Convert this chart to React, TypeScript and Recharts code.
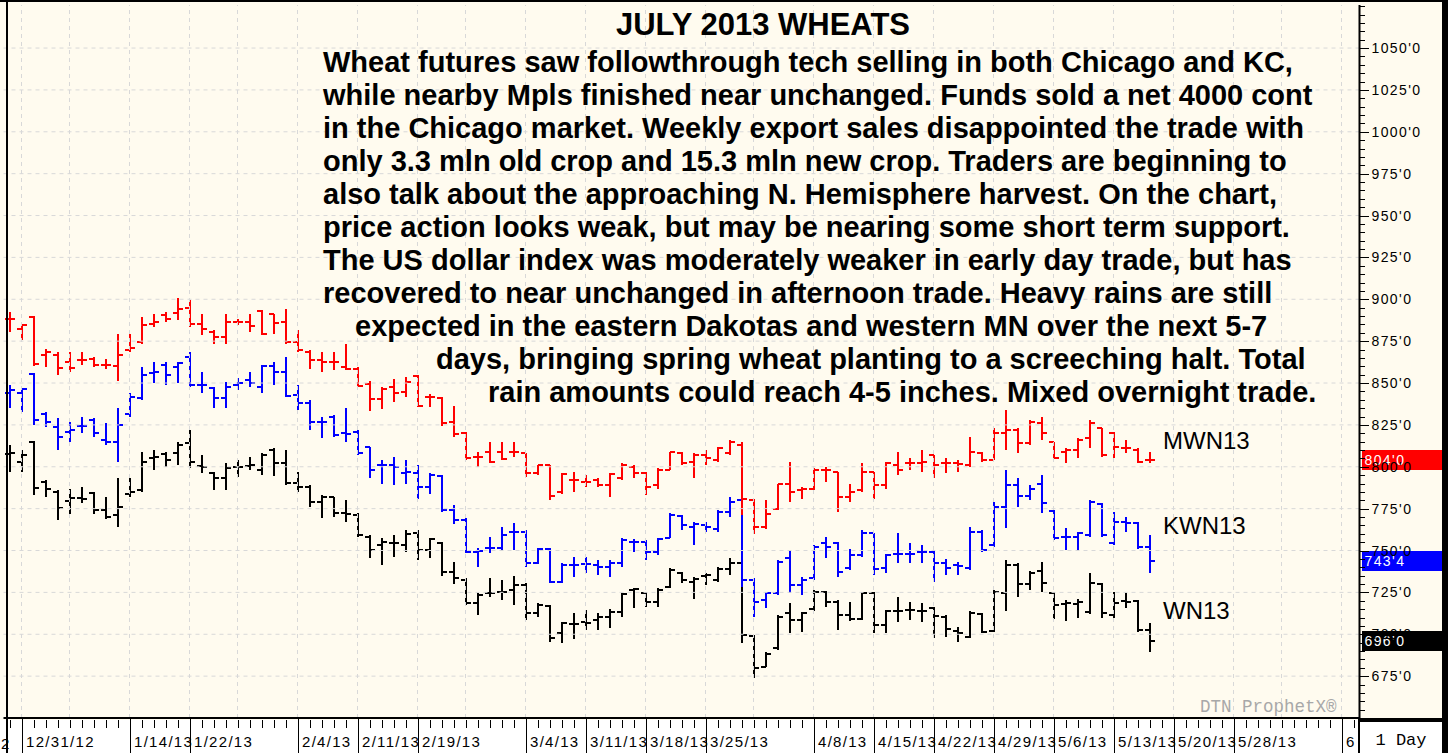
import React from 'react';
import { ComposedChart, Bar, XAxis, YAxis, ReferenceLine } from 'recharts';

// trading days on the x axis (bars exist for the first 96)
const dates = [
  '12/28/12', '12/31/12', '1/2/13', '1/3/13', '1/4/13', '1/7/13', '1/8/13', '1/9/13', '1/10/13', '1/11/13',
  '1/14/13', '1/15/13', '1/16/13', '1/17/13', '1/18/13', '1/22/13', '1/23/13', '1/24/13', '1/25/13', '1/28/13',
  '1/29/13', '1/30/13', '1/31/13', '2/1/13', '2/4/13', '2/5/13', '2/6/13', '2/7/13', '2/8/13', '2/11/13',
  '2/12/13', '2/13/13', '2/14/13', '2/15/13', '2/19/13', '2/20/13', '2/21/13', '2/22/13', '2/25/13', '2/26/13',
  '2/27/13', '2/28/13', '3/1/13', '3/4/13', '3/5/13', '3/6/13', '3/7/13', '3/8/13', '3/11/13', '3/12/13',
  '3/13/13', '3/14/13', '3/15/13', '3/18/13', '3/19/13', '3/20/13', '3/21/13', '3/22/13', '3/25/13', '3/26/13',
  '3/27/13', '3/28/13', '4/1/13', '4/2/13', '4/3/13', '4/4/13', '4/5/13', '4/8/13', '4/9/13', '4/10/13',
  '4/11/13', '4/12/13', '4/15/13', '4/16/13', '4/17/13', '4/18/13', '4/19/13', '4/22/13', '4/23/13', '4/24/13',
  '4/25/13', '4/26/13', '4/29/13', '4/30/13', '5/1/13', '5/2/13', '5/3/13', '5/6/13', '5/7/13', '5/8/13',
  '5/9/13', '5/10/13', '5/13/13', '5/14/13', '5/15/13', '5/16/13', '5/17/13', '5/20/13', '5/21/13', '5/22/13',
  '5/23/13', '5/24/13', '5/28/13', '5/29/13', '5/30/13', '5/31/13', '6/3/13', '6/4/13', '6/5/13', '6/6/13',
  '6/7/13', '6/10/13', '6/11/13',
];

// labelled dates and the text shown for them (the last one is cut off by the price axis)
const shownDates = [
  '12/31/12', '1/14/13', '1/22/13', '2/4/13', '2/11/13', '2/19/13', '3/4/13', '3/11/13', '3/18/13', '3/25/13',
  '4/8/13', '4/15/13', '4/22/13', '4/29/13', '5/6/13', '5/13/13', '5/20/13', '5/28/13', '6/10/13',
];
const shownText = [
  '12/31/12', '1/14/13', '1/22/13', '2/4/13', '2/11/13', '2/19/13', '3/4/13', '3/11/13', '3/18/13', '3/25/13',
  '4/8/13', '4/15/13', '4/22/13', '4/29/13', '5/6/13', '5/13/13', '5/20/13', '5/28/13', '6',
];
const weekStarts = [
  '12/31/12', '1/7/13', '1/14/13', '1/22/13', '1/28/13', '2/4/13', '2/11/13', '2/19/13', '2/25/13', '3/4/13',
  '3/11/13', '3/18/13', '3/25/13', '4/1/13', '4/8/13', '4/15/13', '4/22/13', '4/29/13', '5/6/13', '5/13/13',
  '5/20/13', '5/28/13', '6/3/13', '6/10/13',
];
const priceTicks = [675, 700, 725, 750, 775, 800, 825, 850, 875, 900, 925, 950, 975, 1000, 1025, 1050];

// MWN13 (Minneapolis) - red
const mwnOpen = [888, 882, 889.5, 866.5, 866.5, 862.5, 863.5, 864.5, 861, 860, 870, 874.5, 885.5, 890.5, 892, 894.5, 885.5, 880.5, 877.5, 886.5, 886.5, 893, 891, 886.5, 874.5, 868.5, 863.5, 862.5, 859.5, 858.5, 849.5, 840.5, 847.5, 844.5, 854, 841.5, 841, 826.5, 820, 806, 809, 809, 809, 808, 796, 801, 785, 792, 791, 792, 789, 793, 800, 796, 789, 798, 808, 803, 807, 804, 808, 813, 780, 764, 775, 790, 786, 787, 798, 797, 782, 786, 797, 789, 801, 802, 802, 807, 802, 802, 801, 808, 804, 820, 822, 814, 826, 815, 809, 810, 817, 823, 820, 811, 810, 804];
const mwnHigh = [892.5, 885.5, 890, 870.5, 868.5, 868.5, 868.5, 865.5, 864.5, 879.5, 879.5, 889.5, 891.5, 892.5, 900.5, 899.5, 891.5, 881.5, 891.5, 888.5, 891.5, 893.5, 891.5, 894, 881.5, 869.5, 868.5, 868.5, 873.5, 859.5, 851.5, 847.5, 852.5, 853.5, 854.5, 843.5, 841.5, 836.5, 821, 809, 815, 815, 815, 808, 801, 801, 796, 797, 795, 793, 796, 802, 801, 797, 799, 809, 809, 808, 810, 812, 816, 815, 780.5, 780, 790, 803, 788, 799, 800, 797, 790, 802, 797, 803, 809, 805, 810, 807, 805, 804, 818, 809, 823, 834, 823, 828, 830, 815, 811, 817, 828, 823, 821, 816, 811, 809];
const mwnLow = [880.5, 875.5, 860, 859.5, 854.5, 856.5, 860.5, 859.5, 858.5, 851.5, 868.5, 873.5, 883.5, 886.5, 887.5, 883.5, 878.5, 873.5, 873.5, 884.5, 880.5, 878.5, 879.5, 873.5, 868.5, 858.5, 856.5, 857.5, 857.5, 848.5, 833.5, 834.5, 838.5, 841.5, 835.5, 835.5, 824.5, 817.5, 804, 800, 802, 804, 806, 794, 795, 780, 784, 785, 788, 788, 782, 792, 793, 783, 787, 798, 801, 793, 801, 803, 807, 771, 760, 763, 774, 779, 781, 786, 791, 773, 779, 785, 781, 787, 795, 798, 797, 793, 796, 797, 800, 803, 804, 810, 808, 813, 816, 805, 802, 805, 811, 806, 805, 808, 802, 802];
const mwnClose = [888, 884.5, 861.5, 868.5, 859, 859, 863.5, 860.5, 860.5, 866.5, 871, 884.5, 886.5, 888.5, 894, 885.5, 882, 877.5, 886.5, 886.5, 884, 879.5, 886, 874.5, 869.5, 863.5, 862.5, 862.5, 858.5, 848.5, 840.5, 846.5, 844, 850.5, 836.5, 841.5, 826, 819.5, 805, 806, 803, 804.5, 809, 796, 801, 782.5, 795.5, 792, 791, 789, 795.5, 801, 796, 788, 798, 809, 802, 807, 805, 811, 814.5, 781, 764, 772, 790, 785, 787, 798, 798, 782, 785, 797, 789, 802, 798, 802, 803, 801, 802, 801.5, 809, 804, 820, 822, 814, 827, 820, 805, 810, 816, 826, 807, 812, 811, 803, 804];

// KWN13 (Kansas City) - blue
const kwnOpen = [843.8, 843.8, 855.3, 831.8, 823.9, 820.9, 824.3, 827.9, 815.9, 814.9, 831.8, 840.8, 855.7, 860.7, 859.7, 865.7, 848.8, 846.8, 840.8, 848.8, 851.8, 847.8, 860.1, 856.7, 842.8, 837.8, 826.9, 829.9, 819.9, 820.9, 811.6, 801, 801, 796.4, 796, 787.7, 794.4, 774, 768.2, 749.3, 751.3, 751.3, 761.2, 761.2, 742.3, 750.7, 731.4, 741.3, 741.9, 741.3, 740.3, 742.7, 755.3, 755.3, 749.3, 757.2, 770.6, 764.2, 765.2, 762.6, 773.1, 780.1, 732.3, 720.4, 724.4, 745.3, 729.3, 733.3, 754.2, 754.6, 739.3, 747.2, 760.2, 739.3, 747.8, 748.2, 749.2, 749.2, 742.3, 741.3, 739.3, 761.2, 753.2, 775.7, 789, 782.5, 790, 773.7, 758.2, 758.2, 759.2, 777.7, 754.2, 767.1, 766.5, 752.2];
const kwnHigh = [848.8, 846.8, 855.7, 832.8, 828.9, 826.9, 829.9, 828.9, 825.9, 834.8, 843.8, 859.7, 862.7, 862.7, 862.7, 868.7, 856.7, 847.8, 850.8, 852.8, 856.7, 860.7, 862.7, 865.7, 848.8, 839.8, 829.9, 830.9, 834.8, 821.9, 812, 804, 806, 804, 801, 796, 795, 777, 769.2, 751.3, 758.2, 764.2, 766.2, 762.2, 751.3, 751.3, 742.3, 746.3, 746.3, 744.3, 744.3, 757.2, 756.6, 756.3, 757.2, 772.2, 771.2, 767.1, 767.1, 774.1, 782.1, 780.5, 733.3, 725.4, 744.3, 750.2, 734.3, 753.2, 758.2, 755.2, 751.2, 762.2, 760.2, 748.2, 760.2, 754.2, 753.2, 750.2, 744.7, 743.3, 764.2, 762.2, 779.1, 798, 793, 789, 795, 774.1, 763.2, 761.2, 780.1, 778.1, 773.1, 770.1, 767.1, 759.2];
const kwnLow = [834.8, 832.8, 824.9, 823.9, 810, 814.9, 819.9, 817.9, 812.9, 803, 829.9, 839.8, 849.8, 848.8, 849.8, 847.8, 843.8, 834.8, 834.8, 845.8, 847.8, 843.8, 848.8, 841.8, 833.8, 821.9, 816.9, 817.9, 814.9, 807, 793, 790, 789, 790, 781, 784, 773, 766, 748.3, 740.3, 748.3, 749.9, 750.3, 740.3, 741.9, 730.4, 730.8, 734.4, 736.3, 735.3, 734.4, 740.3, 749.3, 744.3, 747.3, 757.2, 762.2, 753.2, 761.2, 761.2, 770.1, 728.3, 710.4, 715.4, 723.4, 724.4, 723.4, 732.3, 745.3, 734.3, 738.3, 746.2, 735.3, 736.3, 742.3, 742.3, 742.3, 731.3, 735.3, 735.3, 738.3, 749.2, 752.2, 763.2, 776.1, 780.1, 772.1, 756.2, 750.2, 750.2, 758.2, 758.2, 753.2, 761.2, 751.2, 736.3];
const kwnClose = [845.8, 846.2, 827.9, 826.9, 817.9, 821.9, 824.3, 819.9, 814.9, 824.9, 841.8, 854.7, 856.7, 854.7, 861.7, 848.8, 848.8, 840.8, 847.8, 849.8, 849.8, 860.1, 856.7, 842.2, 837.8, 826.9, 826.9, 818.9, 819.5, 808, 798, 801, 800, 797, 788, 795, 774, 768, 749.3, 749.9, 751.3, 759.2, 761.2, 742.3, 750.7, 731.4, 741.3, 741.3, 741.9, 740.3, 742.7, 756.3, 755.3, 749.3, 756.6, 771.2, 765.2, 765.8, 764.2, 773.1, 779.1, 732.3, 719.4, 724.4, 743.3, 729.3, 732.3, 752.2, 752.2, 737.3, 747.2, 760.2, 738.7, 747.2, 747.8, 748.2, 749.2, 742.3, 739.3, 740.7, 761.2, 750.2, 776.1, 789, 782.5, 786.5, 778.1, 757.2, 758.2, 760.2, 779.1, 759.2, 767.1, 766.5, 752.2, 743.5];

// WN13 (Chicago) - black
const wnOpen = [807.6, 803, 814.9, 791, 785.1, 779.7, 781.1, 784.1, 774.1, 771.1, 783.7, 786.1, 805, 807.6, 808, 814, 800.4, 796, 793, 800, 800.4, 798, 810, 802, 790.5, 788.1, 779.1, 781.7, 772.1, 771.1, 758.2, 753.2, 754.2, 753.2, 760.6, 750.2, 754.6, 737.3, 732.4, 718.8, 724.4, 725.4, 726.4, 729.4, 712.5, 717, 700.5, 706.1, 707.5, 708.5, 710.5, 713.5, 726.4, 724.8, 719.4, 728.4, 736.7, 731.3, 734.7, 732.3, 738.7, 742.3, 698.9, 680.6, 691.5, 712.4, 708.4, 714.8, 725.4, 719.4, 711.4, 709.4, 724.8, 705.4, 714, 714.4, 714, 715.4, 710.4, 702.1, 698.5, 712, 702.1, 724.4, 741.3, 730.3, 737.9, 724.8, 718, 718, 713.4, 729.9, 711.4, 720, 720, 702.5];
const wnHigh = [813, 810, 815.5, 792, 786.1, 786.5, 788.1, 785.1, 782.1, 793, 793, 809, 810, 809, 815, 821.9, 807, 797, 802, 804, 806, 808.4, 811, 810, 797, 789, 783.1, 782.1, 780.1, 772.1, 759.2, 757.2, 759.2, 762.2, 762.2, 757.2, 755.2, 743.3, 733.3, 724.4, 733.3, 732.4, 734.7, 730.4, 718.4, 717.4, 707.5, 712.5, 714.4, 712.5, 714.8, 724.8, 727.4, 725.4, 727.4, 739.3, 737.3, 734.3, 736.7, 740.3, 745.3, 743.3, 699.5, 689.5, 711.4, 718.4, 713.4, 726.3, 726, 720.4, 719.4, 725.4, 725.4, 714.4, 722.4, 719.4, 718.4, 716.4, 711.4, 704.5, 714, 712.4, 726.3, 744.3, 742.3, 737.9, 743.3, 725.4, 720.4, 720.8, 736.3, 730.7, 725.4, 724.4, 720.4, 706.8];
const wnLow = [797, 797, 783.1, 782.1, 768.2, 771.7, 778.1, 771.7, 768.6, 764.2, 781.7, 785.1, 798, 800, 801, 799, 796, 786.1, 786.1, 794, 798, 795, 794.4, 789, 785.1, 776.1, 769.2, 770.2, 767.2, 758.2, 745.3, 741.3, 746.3, 749.3, 744.3, 745.3, 734.7, 730.3, 717.4, 711.5, 722.4, 720.4, 717.4, 708.5, 710.5, 695.5, 694.5, 696.9, 702.5, 702.5, 703.5, 710.5, 715.4, 716, 716, 727.4, 730.8, 720.8, 729.3, 731.3, 735.3, 694.5, 673.6, 680.2, 690.5, 700.5, 701.5, 714, 716, 702.5, 708, 708.8, 700.5, 700.9, 707.4, 708.4, 707.4, 697.5, 698.5, 695.5, 697.5, 700.5, 701.5, 714, 722.4, 726.3, 725.4, 709.4, 708, 710, 712, 710, 710, 715.4, 701.5, 689.5];
const wnClose = [808, 807, 787.1, 786.5, 775.1, 781.1, 780.5, 774.1, 770.2, 776.1, 785.1, 803, 806, 804, 813, 803, 800, 793, 799, 800, 801, 807, 802, 790.5, 787.7, 779.1, 782.1, 772.5, 771.7, 759.2, 750.6, 755.2, 754.2, 759.8, 750.2, 756.6, 737.3, 733.3, 718.8, 723.4, 724.4, 725.4, 729.4, 712.5, 717.4, 697.5, 706.5, 706.1, 706.9, 710.5, 713.5, 724, 726.8, 719.4, 726.4, 738.3, 732.4, 732.7, 735.3, 738.7, 742.3, 699.5, 679.6, 688.5, 710.4, 708.4, 712.4, 725.4, 719.4, 711.4, 709.4, 724.8, 705.4, 714, 714, 714.4, 714, 710.8, 702.9, 700.5, 712.4, 701.5, 725.4, 741.3, 730.3, 736.7, 730.7, 717.4, 718.8, 719.4, 730.7, 712.4, 718.4, 719.4, 702.5, 696];

const commentary = [
  'Wheat futures saw followthrough tech selling in both Chicago and KC,',
  'while nearby Mpls finished near unchanged. Funds sold a net 4000 cont',
  'in the Chicago market. Weekly export sales disappointed the trade with',
  'only 3.3 mln old crop and 15.3 mln new crop. Traders are beginning to',
  'also talk about the approaching N. Hemisphere harvest. On the chart,',
  'price action looks weak, but may be nearing some short term support.',
  'The US dollar index was moderately weaker in early day trade, but has',
  'recovered to near unchanged in afternoon trade. Heavy rains are still',
  'expected in the eastern Dakotas and western MN over the next 5-7',
  'days, bringing spring wheat planting to a screeching halt. Total',
  'rain amounts could reach 4-5 inches. Mixed overnight trade.',
];
const commentaryLeft = [323, 323, 323, 323, 323, 323, 323, 323, 355, 436, 488];

const RED = '#FF0000';
const BLUE = '#0000FF';
const BLACK = '#000000';
const CREAM = '#FFFBEF';
const GRID = '#D8D8D8';
const SANS = '"Liberation Sans", Arial, sans-serif';
const MONO = '"Liberation Mono", "Courier New", monospace';

const data = dates.map((d, i) => {
  const row: any = { date: d };
  if (i < wnClose.length) {
    row.w = [wnLow[i], wnHigh[i]];
    row.wO = wnOpen[i];
    row.wC = wnClose[i];
    row.k = [kwnLow[i], kwnHigh[i]];
    row.kO = kwnOpen[i];
    row.kC = kwnClose[i];
    row.m = [mwnLow[i], mwnHigh[i]];
    row.mO = mwnOpen[i];
    row.mC = mwnClose[i];
  }
  return row;
});

// eighths notation used by the quote board, e.g. 743.5 -> 743'4
const fmtPrice = (v: number) => {
  const whole = Math.floor(v);
  return `${whole}'${Math.round((v - whole) * 8)}`;
};

const OhlcShape = (props: any) => {
  const { x, y, width, height, payload, color, k } = props;
  const range = payload && payload[k];
  if (!range) return null;
  const [lo, hi] = range;
  const top = Math.min(y, y + height);
  const bot = Math.max(y, y + height);
  const toY = (v: number) => Math.round(bot - ((v - lo) / (hi - lo || 1)) * (bot - top));
  const cx = Math.round(x + width / 2);
  const oy = toY(payload[k + 'O']);
  const cy = toY(payload[k + 'C']);
  return (
    <g shapeRendering="crispEdges" stroke={color} strokeWidth={2}>
      <line x1={cx} x2={cx} y1={Math.round(top)} y2={Math.round(bot)} />
      <line x1={cx - 5} x2={cx} y1={oy} y2={oy} />
      <line x1={cx} x2={cx + 5} y1={cy} y2={cy} />
    </g>
  );
};

const DateTick = (props: any) => {
  const { x, y, payload } = props;
  const cx = Math.round(x);
  const li = shownDates.indexOf(payload.value);
  return (
    <g shapeRendering="crispEdges">
      <line x1={cx} x2={cx} y1={y + 2} y2={y + 10} stroke={BLACK} strokeWidth={1} />
      {li >= 0 && <line x1={cx} x2={cx} y1={y} y2={y + 36} stroke={BLACK} strokeWidth={1} />}
      {li >= 0 && (
        <text x={cx + 4} y={y + 29} fontFamily={SANS} fontSize={15} letterSpacing={1.3} fill={BLACK}>
          {shownText[li]}
        </text>
      )}
    </g>
  );
};

const minorTicks: number[] = [];
for (let v = 655; v <= 1075; v += 5) minorTicks.push(v);

const PriceTick = (props: any) => {
  const { x, y, payload } = props;
  const v = payload.value;
  const major = priceTicks.includes(v);
  const yy = Math.round(y);
  return (
    <g shapeRendering="crispEdges">
      <line x1={x} x2={x + (major ? 9 : 5)} y1={yy} y2={yy} stroke={BLACK} strokeWidth={1} />
      {major && (
        <text x={x + 12} y={yy + 5} fontFamily={SANS} fontSize={14} letterSpacing={1.4} fill={BLACK}>
          {fmtPrice(v)}
        </text>
      )}
    </g>
  );
};

const LastPriceBox = (color: string, value: number) => (props: any) => {
  const { viewBox } = props;
  const bx = viewBox.x + viewBox.width + 2;
  const by = Math.round(viewBox.y) - 10;
  return (
    <g shapeRendering="crispEdges">
      <rect x={bx} y={by} width={82} height={20} fill={color} />
      <text x={bx + 3} y={by + 15} fontFamily={SANS} fontSize={14} letterSpacing={1.4} fill="#FFFFFF">
        {fmtPrice(value)}
      </text>
    </g>
  );
};

export default function App() {
  const last = wnClose.length - 1;
  return (
    <div style={{ position: 'absolute', left: 0, top: 0, width: 1448, height: 753, background: CREAM, overflow: 'hidden' }}>
      <div style={{ position: 'absolute', left: 0, top: 720, width: 1448, height: 33, background: '#FFFFFF' }} />
      <div style={{ position: 'absolute', left: 0, top: 0 }}>
        <ComposedChart
          width={1448}
          height={753}
          data={data}
          margin={{ top: 5, right: 8.5, bottom: 0, left: 3.5 }}
        >
          <XAxis
            dataKey="date"
            interval={0}
            height={35}
            tickSize={0}
            tickMargin={0}
            tickLine={false}
            axisLine={{ stroke: BLACK, strokeWidth: 2 }}
            tick={<DateTick />}
          />
          <XAxis xAxisId="k" dataKey="date" hide />
          <XAxis xAxisId="m" dataKey="date" hide />
          <YAxis
            orientation="right"
            type="number"
            width={80}
            domain={[650, 1075.7]}
            allowDataOverflow
            ticks={minorTicks}
            interval={0}
            tickSize={0}
            tickMargin={0}
            tickLine={false}
            axisLine={{ stroke: BLACK, strokeWidth: 2 }}
            tick={<PriceTick />}
          />
          {priceTicks.map((p) => (
            <ReferenceLine key={'h' + p} y={p} stroke={GRID} strokeDasharray="4 4" />
          ))}
          {weekStarts.map((d) => (
            <ReferenceLine key={'v' + d} x={d} stroke={GRID} strokeDasharray="4 4" />
          ))}
          <Bar dataKey="w" barSize={8} isAnimationActive={false}
            shape={(p: any) => <OhlcShape {...p} color={BLACK} k="w" />} />
          <Bar dataKey="k" xAxisId="k" barSize={8} isAnimationActive={false}
            shape={(p: any) => <OhlcShape {...p} color={BLUE} k="k" />} />
          <Bar dataKey="m" xAxisId="m" barSize={8} isAnimationActive={false}
            shape={(p: any) => <OhlcShape {...p} color={RED} k="m" />} />
          <ReferenceLine y={mwnClose[last]} stroke="none" label={LastPriceBox(RED, mwnClose[last])} />
          <ReferenceLine y={kwnClose[last]} stroke="none" label={LastPriceBox(BLUE, kwnClose[last])} />
          <ReferenceLine y={wnClose[last]} stroke="none" label={LastPriceBox(BLACK, wnClose[last])} />
        </ComposedChart>
      </div>

      <svg width={1448} height={753} style={{ position: 'absolute', left: 0, top: 0, pointerEvents: 'none' }}>
        <g shapeRendering="crispEdges">
          <rect x={6} y={0} width={2} height={753} fill={BLACK} />
          <rect x={0} y={0} width={1448} height={2} fill={BLACK} />
          <rect x={1442} y={0} width={6} height={753} fill={BLACK} />
          <rect x={1358} y={718} width={2} height={35} fill={BLACK} />
          <rect x={1358} y={718} width={86} height={4} fill={BLACK} />
          <rect x={1360} y={722} width={82} height={31} fill="#FFFFFF" />
        </g>
        <text x={1401} y={745} textAnchor="middle" fontFamily={MONO} fontSize={17} fill={BLACK}>1 Day</text>
        <text x={1} y={749} fontFamily={SANS} fontSize={15} fill={BLACK}>2</text>
        <text x={763} y={35} textAnchor="middle" fontFamily={SANS} fontWeight="bold" fontSize={31} fill={BLACK}>
          JULY 2013 WHEATS
        </text>
        {commentary.map((line, i) => (
          <text key={i} x={commentaryLeft[i]} y={72 + 33 * i} fontFamily={SANS} fontWeight="bold" fontSize={29} fill={BLACK}>
            {line}
          </text>
        ))}
        <text x={1163} y={449} fontFamily={SANS} fontSize={24} fill={BLACK}>MWN13</text>
        <text x={1163} y={534} fontFamily={SANS} fontSize={24} fill={BLACK}>KWN13</text>
        <text x={1163} y={619} fontFamily={SANS} fontSize={24} fill={BLACK}>WN13</text>
        <text x={1200} y={712} fontFamily={MONO} fontSize={17.5} fill="#A8A8A8">DTN ProphetX®</text>
      </svg>
    </div>
  );
}
